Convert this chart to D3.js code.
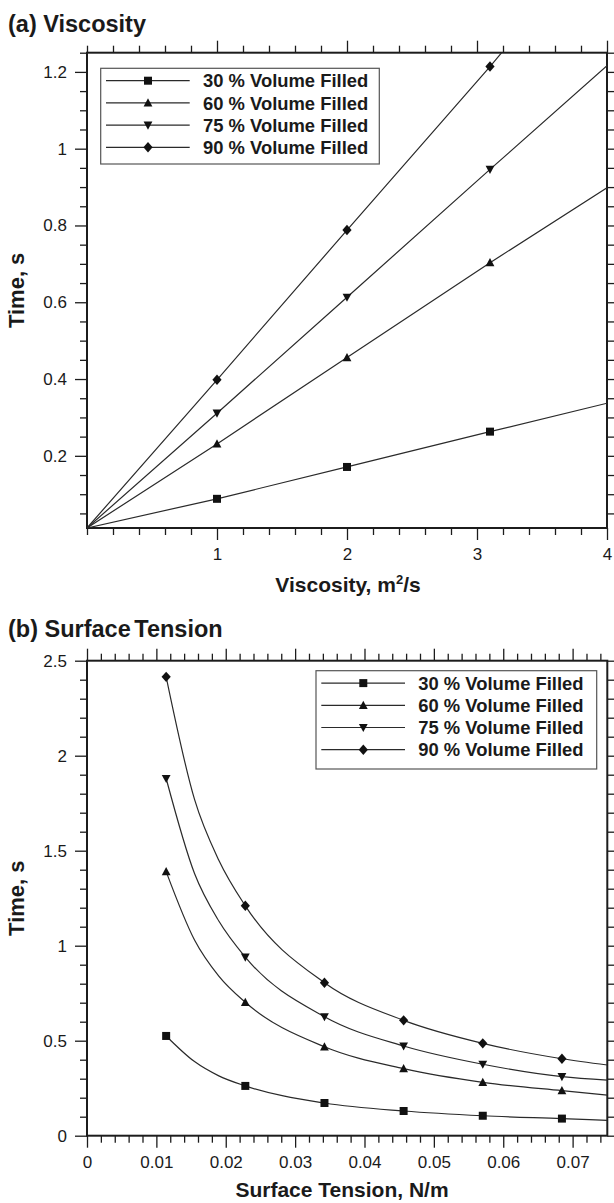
<!DOCTYPE html>
<html>
<head>
<meta charset="utf-8">
<script src="https://cdn.jsdelivr.net/npm/d3@7"></script>
<style>
  html, body { margin: 0; padding: 0; background: #fff; }
  svg { display: block; }
  text { font-family: "Liberation Sans", Arial, Helvetica, sans-serif; fill: #1a1a1a; }
</style>
</head>
<body>
<svg id="chart" width="614" height="1203"></svg>
<script>
// ---- (a) Viscosity: time vs viscosity ----
const seriesNames = ["30 % Volume Filled", "60 % Volume Filled", "75 % Volume Filled", "90 % Volume Filled"];
const markerKinds = ["square", "triangleUp", "triangleDown", "diamond"];

const visX = [1, 2, 3.1];
const visT30 = [0.088, 0.171, 0.263];
const visT60 = [0.231, 0.456, 0.703];
const visT75 = [0.311, 0.613, 0.946];
const visT90 = [0.398, 0.788, 1.214];
// lines leave the bottom-left corner and run out through the frame
const visStartX = 0;
const visStartT = 0.012;
const visEndX = [4, 4, 4, 3.19];
const visEndT = [0.337, 0.898, 1.216, 1.25];
const visXTicks = [1, 2, 3, 4];
const visYTicks = [0.2, 0.4, 0.6, 0.8, 1, 1.2];

// ---- (b) Surface tension: time vs surface tension ----
const stX = [0.01141, 0.02282, 0.03423, 0.04564, 0.05705, 0.06846];
const stT30 = [0.525, 0.262, 0.172, 0.130, 0.105, 0.090];
const stT60 = [1.39, 0.702, 0.468, 0.353, 0.281, 0.237];
const stT75 = [1.88, 0.94, 0.626, 0.472, 0.376, 0.311];
const stT90 = [2.415, 1.21, 0.805, 0.607, 0.486, 0.405];
// extra readings along each fitted curve (steep part and right edge)
const stMidX = [0.0155, 0.019];
const stMid30 = [0.39, 0.315];
const stMid60 = [1.03, 0.84];
const stMid75 = [1.38, 1.13];
const stMid90 = [1.77, 1.45];
const stEndX = 0.075;
const stEndT = [0.081, 0.214, 0.293, 0.372];
const stXTicks = [0, 0.01, 0.02, 0.03, 0.04, 0.05, 0.06, 0.07];
const stYTicks = [0, 0.5, 1, 1.5, 2, 2.5];

const svg = d3.select("#chart");
const INK = "#1c1c1c";

function markerPath(kind) {
  switch (kind) {
    case "square": return "M-4,-4H4V4H-4Z";
    case "triangleUp": return "M0,-4.6L4.4,3.6H-4.4Z";
    case "triangleDown": return "M0,4.6L4.4,-3.6H-4.4Z";
    default: return "M0,-5.2L4.6,0L0,5.2L-4.6,0Z";
  }
}

function minorTicks(lo, hi, step, majors) {
  const out = [];
  const n = Math.round((hi - lo) / step);
  for (let i = 0; i <= n; i++) {
    const v = +(lo + i * step).toFixed(6);
    if (!majors.some(m => Math.abs(m - v) < 1e-9)) out.push(v);
  }
  return out;
}

function drawPanel(cfg) {
  const g = svg.append("g");
  const x = d3.scaleLinear().domain(cfg.xDomain).range([cfg.left, cfg.right]);
  const y = d3.scaleLinear().domain(cfg.yDomain).range([cfg.bottom, cfg.top]);

  const clipId = "clip-" + cfg.id;
  svg.append("clipPath").attr("id", clipId)
    .append("rect").attr("x", cfg.left).attr("y", cfg.top)
    .attr("width", cfg.right - cfg.left).attr("height", cfg.bottom - cfg.top);

  // tick marks, all pointing outward
  const tickStyle = sel => {
    sel.select(".domain").remove();
    sel.selectAll(".tick line").attr("stroke", INK).attr("stroke-width", 1.3);
    sel.selectAll(".tick text").attr("font-size", 17).attr("fill", "#1a1a1a")
      .style("font-family", '"Liberation Sans", Arial, sans-serif');
  };
  const xMinor = minorTicks(cfg.xDomain[0], cfg.xDomain[1], cfg.xMinorStep, cfg.xTicks);
  const yMinor = minorTicks(cfg.yMinorStart, cfg.yDomain[1], cfg.yMinorStep, cfg.yTicks);

  g.append("g").attr("transform", `translate(0,${cfg.bottom})`)
    .call(d3.axisBottom(x).tickValues(cfg.xTicks).tickSize(12).tickPadding(8).tickFormat(d3.format("")))
    .call(tickStyle);
  g.append("g").attr("transform", `translate(0,${cfg.bottom})`)
    .call(d3.axisBottom(x).tickValues(xMinor).tickSize(7).tickFormat(""))
    .call(tickStyle);
  g.append("g").attr("transform", `translate(0,${cfg.top})`)
    .call(d3.axisTop(x).tickValues(cfg.xTicks).tickSize(12).tickFormat(""))
    .call(tickStyle);
  g.append("g").attr("transform", `translate(0,${cfg.top})`)
    .call(d3.axisTop(x).tickValues(xMinor).tickSize(7).tickFormat(""))
    .call(tickStyle);
  g.append("g").attr("transform", `translate(${cfg.left},0)`)
    .call(d3.axisLeft(y).tickValues(cfg.yTicks).tickSize(12).tickPadding(8).tickFormat(d3.format("")))
    .call(tickStyle);
  g.append("g").attr("transform", `translate(${cfg.left},0)`)
    .call(d3.axisLeft(y).tickValues(yMinor).tickSize(7).tickFormat(""))
    .call(tickStyle);
  g.append("g").attr("transform", `translate(${cfg.right},0)`)
    .call(d3.axisRight(y).tickValues(cfg.yTicks.concat(yMinor)).tickSize(7).tickFormat(""))
    .call(tickStyle);

  // plot frame
  g.append("rect")
    .attr("x", cfg.left).attr("y", cfg.top)
    .attr("width", cfg.right - cfg.left).attr("height", cfg.bottom - cfg.top)
    .attr("fill", "none").attr("stroke", INK).attr("stroke-width", 2);

  // curves
  const line = d3.line().x(d => x(d[0])).y(d => y(d[1])).curve(cfg.curve);
  cfg.series.forEach(s => {
    g.append("path").attr("clip-path", `url(#${clipId})`)
      .attr("d", line(s.path))
      .attr("fill", "none").attr("stroke", "#2a2a2a").attr("stroke-width", 1.2);
  });
  cfg.series.forEach((s, i) => {
    g.append("g").selectAll("path").data(s.points).join("path")
      .attr("transform", d => `translate(${x(d[0])},${y(d[1])})`)
      .attr("d", markerPath(markerKinds[i]))
      .attr("fill", "#111");
  });

  // legend
  const L = cfg.legend;
  g.append("rect").attr("x", L.x).attr("y", L.y).attr("width", L.w).attr("height", L.h)
    .attr("fill", "#fff").attr("stroke", "#555").attr("stroke-width", 1.2);
  seriesNames.forEach((name, i) => {
    const ry = L.y + 12.4 + i * 22.2;
    g.append("line").attr("x1", L.x + 5.3).attr("x2", L.x + 89)
      .attr("y1", ry).attr("y2", ry).attr("stroke", "#2a2a2a").attr("stroke-width", 1.2);
    g.append("path").attr("transform", `translate(${L.x + 47.3},${ry})`)
      .attr("d", markerPath(markerKinds[i])).attr("fill", "#111");
    g.append("text").attr("x", L.x + 102.3).attr("y", ry + 6.6)
      .attr("font-size", 18.4).attr("font-weight", "bold").text(name);
  });

  // titles
  const title = g.append("text").attr("x", 8).attr("y", cfg.titleY)
    .attr("font-size", 23.5).attr("font-weight", "bold");
  cfg.title(title);
  g.append("text")
    .attr("transform", `translate(24,${(cfg.top + cfg.bottom) / 2}) rotate(-90)`)
    .attr("text-anchor", "middle").attr("font-size", 22).attr("font-weight", "bold")
    .text("Time, s");
  const xt = g.append("text").attr("x", cfg.xTitleX).attr("y", cfg.xTitleY)
    .attr("text-anchor", "middle").attr("font-size", 21).attr("font-weight", "bold");
  cfg.xTitle(xt);
}

const visSets = [visT30, visT60, visT75, visT90];
drawPanel({
  id: "visc",
  left: 87, right: 607, top: 52.7, bottom: 528,
  xDomain: [0, 4], yDomain: [0.012, 1.25],
  xTicks: visXTicks, yTicks: visYTicks,
  xMinorStep: 0.2, yMinorStep: 0.05, yMinorStart: 0.05,
  curve: d3.curveLinear,
  series: visSets.map((vals, i) => ({
    points: visX.map((v, j) => [v, vals[j]]),
    path: [[visStartX, visStartT]].concat(visX.map((v, j) => [v, vals[j]]), [[visEndX[i], visEndT[i]]])
  })),
  legend: { x: 100.7, y: 68.3, w: 278.6, h: 95.7 },
  title: t => t.text("(a) Viscosity"), titleY: 31.5,
  xTitleX: 348, xTitleY: 591.5,
  xTitle: t => {
    t.append("tspan").text("Viscosity, m");
    t.append("tspan").attr("font-size", 13).attr("dy", -8).text("2");
    t.append("tspan").attr("dy", 8).text("/s");
  }
});

const stSets = [stT30, stT60, stT75, stT90];
const stMids = [stMid30, stMid60, stMid75, stMid90];
drawPanel({
  id: "surf",
  left: 87, right: 607.3, top: 660.7, bottom: 1135.7,
  xDomain: [0, 0.075], yDomain: [0, 2.5],
  xTicks: stXTicks, yTicks: stYTicks,
  xMinorStep: 0.002, yMinorStep: 0.1, yMinorStart: 0,
  curve: d3.curveMonotoneX,
  series: stSets.map((vals, i) => {
    const pts = stX.map((v, j) => [v, vals[j]]);
    const mids = stMidX.map((v, j) => [v, stMids[i][j]]);
    const path = [pts[0]].concat(mids, pts.slice(1), [[stEndX, stEndT[i]]]);
    return { points: pts, path };
  }),
  legend: { x: 316, y: 670.7, w: 280.7, h: 98.3 },
  title: t => {
    t.append("tspan").text("(b) Surface");
    t.append("tspan").attr("word-spacing", -3).text(" Tension");
  },
  titleY: 637.3,
  xTitleX: 342, xTitleY: 1196.5,
  xTitle: t => t.text("Surface Tension, N/m")
});
</script>
</body>
</html>
